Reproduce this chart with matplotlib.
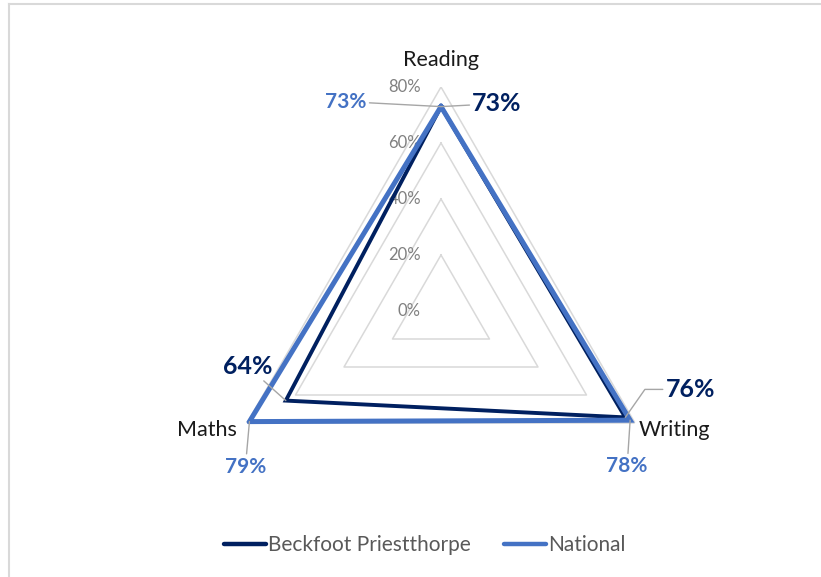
import numpy as np
import matplotlib
matplotlib.use("Agg")
import matplotlib.pyplot as plt
from matplotlib.lines import Line2D

plt.rcParams['font.family'] = ['Lato', 'DejaVu Sans']

categories = ['Reading', 'Writing', 'Maths']
beckfoot = [0.73, 0.76, 0.64]
national = [0.73, 0.78, 0.79]
rings = [0.2, 0.4, 0.6, 0.8]
ring_labels = ['0%', '20%', '40%', '60%', '80%']

navy = '#002060'
blue = '#4472C4'
grid_col = '#d9d9d9'
lead_col = '#a6a6a6'

fig = plt.figure(figsize=(8.21, 5.77), dpi=100)
ax = fig.add_axes([217 / 821, 42 / 577, 448 / 821, 448 / 577], projection='polar')
ax.set_theta_offset(np.pi / 2)
ax.set_theta_direction(-1)
ax.set_ylim(0, 0.8)

angles = np.linspace(0, 2 * np.pi, len(categories), endpoint=False)
closed = np.append(angles, angles[0])

# triangular grid instead of circles
for r in rings:
    ax.plot(closed, [r] * len(closed), color=grid_col, lw=1.1, zorder=1)

ax.plot(closed, beckfoot + beckfoot[:1], color=navy, lw=2.8, zorder=3,
        solid_joinstyle='miter')
ax.plot(closed, national + national[:1], color=blue, lw=3.6, zorder=4,
        solid_joinstyle='miter')

ax.grid(False)
ax.spines['polar'].set_visible(False)
ax.set_xticks([])
ax.set_yticks([])

# radial tick labels left of the vertical axis
for i, lab in enumerate(ring_labels):
    ax.annotate(lab, xy=(0, i * 0.2), xytext=(-20, 0), textcoords='offset pixels',
                ha='right', va='center', fontsize=12, color='#808080', zorder=2)

# category labels
cat_style = dict(textcoords='offset pixels', va='center', fontsize=15.5, color='#1a1a1a')
ax.annotate(categories[0], xy=(angles[0], 0.8), xytext=(0, 27), ha='center', **cat_style)
ax.annotate(categories[1], xy=(angles[1], 0.8), xytext=(4, -7), ha='left', **cat_style)
ax.annotate(categories[2], xy=(angles[2], 0.8), xytext=(-10, -7), ha='right', **cat_style)

# data labels with leader lines
b_off = [(56, 3), (65, 28), (-38, 34)]
n_off = [(-95, 5), (-3, -46), (-4, -45)]
b_conn = ['arc3', 'angle,angleA=0,angleB=55,rad=0', 'arc3']
for a, v, off, cs in zip(angles, beckfoot, b_off, b_conn):
    ax.annotate(f'{round(v * 100)}%', xy=(a, v), xytext=off, textcoords='offset pixels',
                ha='center', va='center', fontsize=18, fontweight='bold', color=navy,
                arrowprops=dict(arrowstyle='-', color=lead_col, lw=1, shrinkA=0, shrinkB=0,
                                connectionstyle=cs),
                zorder=5)
for a, v, off in zip(angles, national, n_off):
    ax.annotate(f'{round(v * 100)}%', xy=(a, v), xytext=off, textcoords='offset pixels',
                ha='center', va='center', fontsize=15, fontweight='bold', color=blue,
                arrowprops=dict(arrowstyle='-', color=lead_col, lw=1, shrinkA=0, shrinkB=0),
                zorder=5)

handles = [Line2D([0], [0], color=navy, lw=3.2, solid_capstyle='round'),
           Line2D([0], [0], color=blue, lw=3.2, solid_capstyle='round')]
fig.legend(handles, ['Beckfoot Priestthorpe', 'National'], loc='center',
           bbox_to_anchor=(425 / 821, 1 - 545 / 577), ncol=2, frameon=False,
           fontsize=15, handlelength=2.0, handletextpad=0.1, columnspacing=1.6,
           labelcolor='#595959')

# chart frame edges visible in the crop
fig.add_artist(Line2D([9 / 821, 9 / 821], [0, 1 - 4 / 577], color=grid_col, lw=1.5))
fig.add_artist(Line2D([9 / 821, 1], [1 - 4 / 577, 1 - 4 / 577], color=grid_col, lw=1.5))

fig.savefig('out.png', dpi=100)
